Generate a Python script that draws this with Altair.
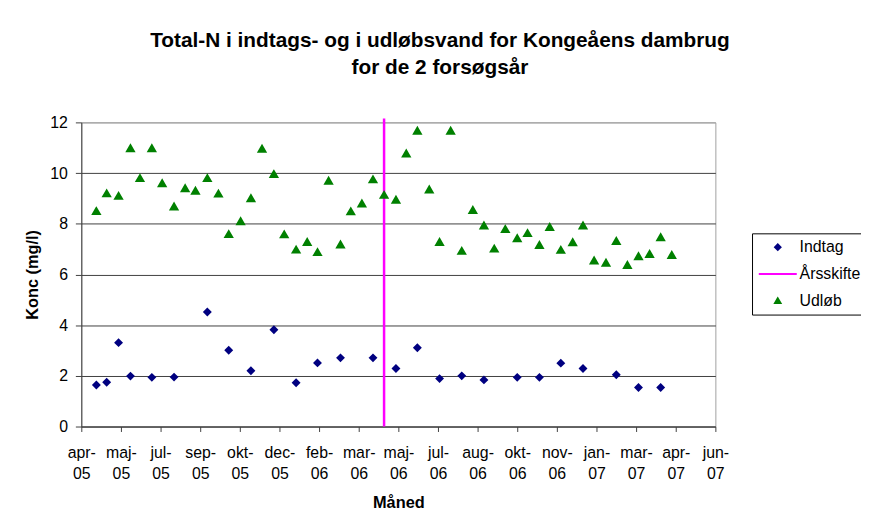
import json
import altair as alt
import pandas as pd

# ---- data ----
indtag_datoer = [
    "2005-04-27", "2005-05-10", "2005-05-25", "2005-06-09", "2005-07-06", "2005-08-03",
    "2005-09-14", "2005-10-11", "2005-11-08", "2005-12-07", "2006-01-04", "2006-01-31",
    "2006-03-01", "2006-04-11", "2006-05-10", "2006-06-06", "2006-07-04", "2006-08-01",
    "2006-08-29", "2006-10-10", "2006-11-07", "2006-12-04", "2007-01-01", "2007-02-12",
    "2007-03-12", "2007-04-09",
]
indtag_konc = [
    1.64, 1.75, 3.31, 1.99, 1.94, 1.95,
    4.52, 3.01, 2.20, 3.82, 1.73, 2.51,
    2.71, 2.71, 2.29, 3.11, 1.89, 2.00,
    1.84, 1.94, 1.94, 2.50, 2.29, 2.04,
    1.54, 1.54,
]

udloeb_datoer = [
    "2005-04-27", "2005-05-10", "2005-05-25", "2005-06-09", "2005-06-21", "2005-07-06",
    "2005-07-19", "2005-08-03", "2005-08-17", "2005-08-30", "2005-09-14", "2005-09-28",
    "2005-10-11", "2005-10-26", "2005-11-08", "2005-11-22", "2005-12-07", "2005-12-20",
    "2006-01-04", "2006-01-18", "2006-01-31", "2006-02-14", "2006-03-01", "2006-03-14",
    "2006-03-28", "2006-04-11", "2006-04-25", "2006-05-10", "2006-05-23", "2006-06-06",
    "2006-06-21", "2006-07-04", "2006-07-18", "2006-08-01", "2006-08-15", "2006-08-29",
    "2006-09-11", "2006-09-25", "2006-10-10", "2006-10-23", "2006-11-07", "2006-11-20",
    "2006-12-04", "2006-12-19", "2007-01-01", "2007-01-15", "2007-01-30", "2007-02-12",
    "2007-02-26", "2007-03-12", "2007-03-26", "2007-04-09", "2007-04-23",
]
udloeb_konc = [
    8.50, 9.20, 9.10, 10.98, 9.80, 10.98,
    9.60, 8.68, 9.40, 9.30, 9.80, 9.19,
    7.59, 8.10, 9.01, 10.96, 9.96, 7.58,
    6.98, 7.28, 6.88, 9.70, 7.18, 8.49,
    8.80, 9.75, 9.14, 8.95, 10.77, 11.67,
    9.35, 7.28, 11.67, 6.93, 8.54, 7.93,
    7.02, 7.79, 7.43, 7.63, 7.16, 7.87,
    6.97, 7.27, 7.93, 6.55, 6.46, 7.32,
    6.37, 6.72, 6.81, 7.47, 6.77,
]

aarsskifte_dato = ["2006-04-25"]
aarsskifte_fra = [0]
aarsskifte_til = [12.15]

# x-axis tick dates (every 50 days, as in the Excel date axis) and Danish month names
akse_start = (2005, 4, 8)
akse_slut = (2007, 6, 17)
tick_datoer = [
    (2005, 4, 8), (2005, 5, 28), (2005, 7, 17), (2005, 9, 5), (2005, 10, 25),
    (2005, 12, 14), (2006, 2, 2), (2006, 3, 24), (2006, 5, 13), (2006, 7, 2),
    (2006, 8, 21), (2006, 10, 10), (2006, 11, 29), (2007, 1, 18), (2007, 3, 9),
    (2007, 4, 28), (2007, 6, 17),
]
maaneder = ["jan", "feb", "mar", "apr", "maj", "jun", "jul", "aug", "sep", "okt", "nov", "dec"]
y_ticks = [0, 2, 4, 6, 8, 10, 12]

serier = ["Indtag", "Årsskifte", "Udløb"]
farver = ["#000080", "#FF00FF", "#008000"]
former = ["diamond", "M-7,0L7,0", "triangle-up"]

# ---- tables ----
df_ind = pd.DataFrame({"dato": indtag_datoer, "konc": indtag_konc, "serie": "Indtag"})
df_udl = pd.DataFrame({"dato": udloeb_datoer, "konc": udloeb_konc, "serie": "Udløb"})
df_skift = pd.DataFrame({"dato": aarsskifte_dato, "konc": aarsskifte_fra, "til": aarsskifte_til})

FONT = "Liberation Sans"


def dt(t):
    return alt.DateTime(year=t[0], month=t[1], date=t[2])


label_expr = (
    "[" + json.dumps(maaneder) + "[month(datum.value)] + '-', timeFormat(datum.value, '%y')]"
)

x_axis = alt.Axis(
    values=[dt(t) for t in tick_datoer],
    labelExpr=label_expr,
    labelAngle=0,
    labelAlign="center",
    labelBaseline="top",
    labelLineHeight=21,
    labelPadding=13,
    labelOverlap=False,
    labelFlush=False,
    tickSize=5,
    grid=False,
    titleY=82,
    titleBaseline="alphabetic",
)
y_axis = alt.Axis(
    values=y_ticks,
    format="d",
    grid=True,
    gridColor={"condition": {"test": "datum.value === 12", "value": "#a0a0a0"}, "value": "#404040"},
    tickSize=6,
    labelPadding=8,
    titleX=-44,
    titleAngle=-90,
    titleBaseline="alphabetic",
)

x = alt.X("dato:T", scale=alt.Scale(domain=[dt(akse_start), dt(akse_slut)]), axis=x_axis, title="Måned")
y = alt.Y("konc:Q", scale=alt.Scale(domain=[0, 12]), axis=y_axis, title="Konc (mg/l)")

legend = alt.Legend(
    title=None,
    orient="none",
    legendX=677,
    legendY=112,
    direction="vertical",
    strokeColor="black",
    fillColor="white",
    padding=6,
    rowPadding=11,
    symbolSize=30,
    symbolStrokeWidth=2,
    symbolOpacity=1,
    symbolOffset=12,
    labelOffset=14,
    labelFontSize=16,
    labelFont=FONT,
    labelColor="black",
)
color = alt.Color("serie:N", scale=alt.Scale(domain=serier, range=farver), legend=legend)
stroke = alt.Stroke("serie:N", scale=alt.Scale(domain=serier, range=farver), legend=legend)
shape = alt.Shape("serie:N", scale=alt.Scale(domain=serier, range=former), legend=legend)

skift = alt.Chart(df_skift).mark_rule(color="#FF00FF", strokeWidth=2.5).encode(
    x=x, y=y, y2=alt.Y2("til:Q")
)
pts_ind = alt.Chart(df_ind).mark_point(filled=True, opacity=1, size=38).encode(
    x=x, y=y, color=color, stroke=stroke, shape=shape
)
pts_udl = alt.Chart(df_udl).mark_point(filled=True, opacity=1, size=48).encode(
    x=x, y=y, color=color, stroke=stroke, shape=shape
)

chart = (
    alt.layer(skift, pts_ind, pts_udl)
    .properties(
        width=640,
        height=307,
        autosize=alt.AutoSizeParams(type="none"),
        padding={"left": 74, "top": 113, "right": 147, "bottom": 103},
        background="white",
        title=alt.TitleParams(
            text=["Total-N i indtags- og i udløbsvand for Kongeåens dambrug", "for de 2 forsøgsår"],
            font=FONT,
            fontSize=21,
            fontWeight="bold",
            color="black",
            anchor="middle",
            dx=42,
            offset=37,
            lineHeight=27,
        ),
    )
    .configure(font=FONT)
    .configure_view(stroke="#a0a0a0", strokeWidth=1)
    .configure_axis(
        labelFont=FONT,
        labelFontSize=16,
        labelColor="black",
        titleFont=FONT,
        titleFontSize=16.5,
        titleFontWeight="bold",
        titleColor="black",
        domainColor="#404040",
        tickColor="#404040",
        gridWidth=1,
    )
)

chart.save("out.html", embed_options={"renderer": "svg", "actions": False})
